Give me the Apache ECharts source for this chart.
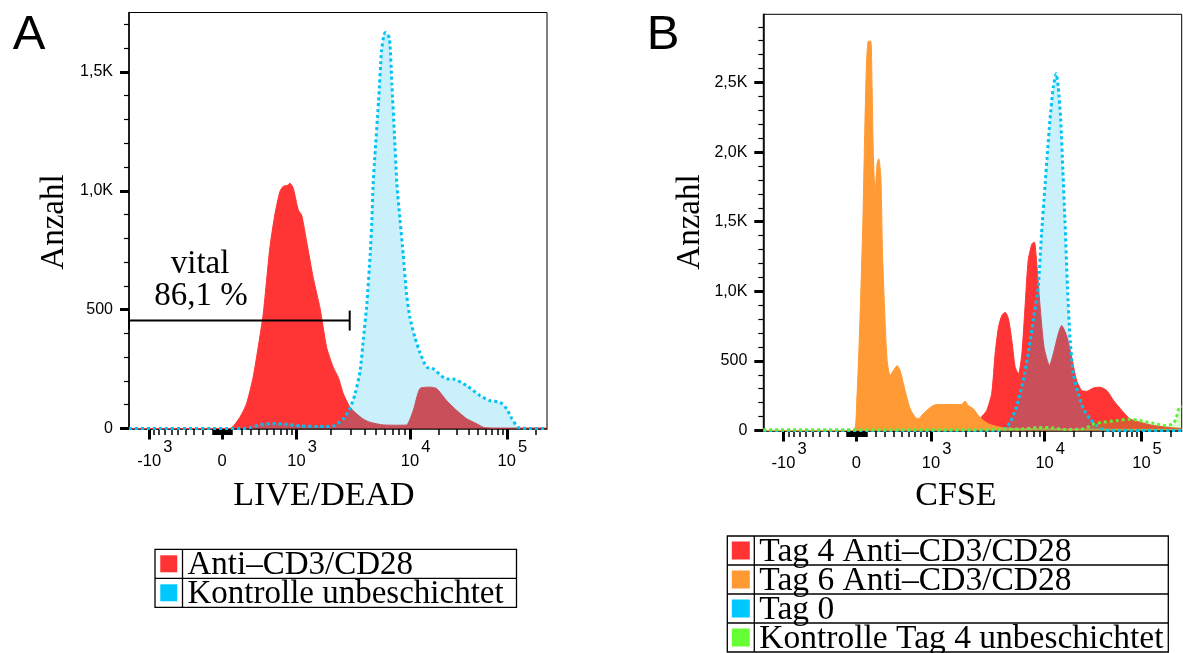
<!DOCTYPE html>
<html>
<head>
<meta charset="utf-8">
<script src="https://cdn.jsdelivr.net/npm/echarts@6/dist/echarts.min.js"></script>
<style>
html,body{margin:0;padding:0;background:#fff;}
#chart{width:1183px;height:653px;}
</style>
</head>
<body>
<div id="chart"></div>
<script>
// ================= DATA =================
// x = position on the biexponential display axis, in display channels (0 .. 1000 across the plot),
// y = event count (Anzahl).

// Panel A: LIVE/DEAD
const namesA = ['Anti\u2013CD3/CD28', 'Kontrolle unbeschichtet'];
const liveDeadAnti = [
  [0,0],[241,0],[265,47],[281,104],[297,216],[309,342],[321,480],[329,621],[337,761],[349,901],
  [361,997],[369,1019],[379,1023],[385,1032],[393,1011],[405,919],[413,898],[425,786],[441,632],
  [457,506],[473,340],[489,256],[501,214],[513,145],[529,89],[545,61],[560,40],[577,26],[608,15],
  [640,14],[664,15],[680,76],[696,168],[720,174],[736,168],[760,117],[784,76],[808,41],[832,20],
  [848,5],[870,2],[1000,2]
];
const liveDeadKontrolle = [
  [0,0],[272,0],[289,4],[321,18],[345,21],[377,18],[409,11],[457,8],[489,11],[513,41],[529,87],
  [541,146],[553,243],[561,383],[569,523],[577,733],[581,873],[584,1027],[588,1141],[597,1376],
  [604,1586],[610,1657],[614,1666],[623,1642],[629,1446],[635,1237],[641,1026],[648,886],[656,733],
  [664,565],[672,467],[684,383],[696,320],[712,258],[728,251],[760,208],[776,208],[808,180],
  [840,138],[864,117],[888,110],[904,82],[916,41],[931,5],[951,0],[1000,0]
];
// gate "vital": from / to (display channels), level (count), and label
const gateA = [0, 528, 454];
const gateLabelText = ['vital', '86,1 %'];
const gateLabelPos = [[170, 690], [172, 558]];

// Panel B: CFSE
const namesB = ['Tag 4 Anti\u2013CD3/CD28', 'Tag 6 Anti\u2013CD3/CD28', 'Tag 0', 'Kontrolle Tag 4 unbeschichtet'];
const cfseTag4 = [
  [0,0],[505,0],[518,84],[534,144],[546,268],[554,551],[562,742],[570,826],[578,850],[586,802],
  [594,647],[602,455],[610,407],[618,551],[626,910],[633,1221],[642,1341],[648,1353],[653,1221],
  [661,910],[671,598],[684,467],[693,551],[705,695],[713,754],[725,682],[737,527],[749,359],
  [761,287],[773,282],[789,306],[805,311],[821,287],[837,216],[857,144],[876,84],[900,60],
  [932,36],[980,19],[1000,15]
];
const cfseTag6 = [
  [0,0],[215,0],[223,192],[231,790],[238,1509],[243,2227],[247,2658],[251,2797],[257,2797],
  [260,2466],[263,1988],[267,1712],[272,1916],[276,1952],[281,1820],[285,1269],[291,790],
  [296,503],[303,395],[311,431],[320,467],[327,431],[339,287],[351,156],[363,96],[371,84],
  [382,120],[402,172],[414,187],[446,187],[474,187],[482,211],[490,180],[502,156],[514,108],
  [526,72],[542,43],[566,24],[598,14],[700,10],[900,8],[1000,8]
];
const cfseTag0 = [
  [0,0],[558,0],[574,7],[590,60],[606,180],[621,359],[633,551],[645,790],[657,1029],[665,1413],
  [673,1748],[679,1988],[685,2227],[693,2466],[700,2563],[705,2466],[711,2227],[716,1868],
  [721,1509],[727,1029],[733,670],[741,407],[753,264],[765,156],[781,84],[797,36],[813,7],
  [830,0],[1000,0]
];
const cfseKontrolle = [
  [0,5],[500,5],[560,8],[620,12],[660,22],[690,20],[720,8],[760,10],[780,30],[790,48],[813,60],
  [845,72],[876,81],[900,72],[932,52],[960,36],[980,48],[988,103],[994,167],[1000,175]
];

// axis ticks (fluorescence values) and their labels
const xMajorValues = [-1000, 0, 1000, 10000, 100000];
const xMajorBase = ['-10', '0', '10', '10', '10'];
const xMajorExp = ['3', '', '3', '4', '5'];
const yTicksA = [0, 500, 1000, 1500];
const yLabelsA = ['0', '500', '1,0K', '1,5K'];
const yTicksB = [0, 500, 1000, 1500, 2000, 2500];
const yLabelsB = ['0', '500', '1,0K', '1,5K', '2,0K', '2,5K'];
const yMaxA = 1750, yMaxB = 2990;
const titlesA = ['LIVE/DEAD', 'Anzahl'];
const titlesB = ['CFSE', 'Anzahl'];

// ================= AXIS TRANSFORM (biexponential display) =================
function toCh(v) {
  if (v >= 1000) {
    const d = Math.log10(v);
    if (d <= 4) return 401 + (d - 3) * 271.5;
    return 672.5 + (d - 4) * 231.5;
  }
  if (v <= -1000) return 48.6 - (Math.log10(-v) - 3) * 271.5;
  const k = v >= 0 ? 131.8 : 128.4;
  return 222.5 + k * Math.asinh(v / 550);
}
const minorValues = [];
for (let i = 1; i <= 9; i++) { minorValues.push(-i * 100, -i * 10, i * 10, i * 100); }
for (let i = 2; i <= 9; i++) { minorValues.push(i * 1000, i * 10000); }
minorValues.push(200000);
const xMajorCh = xMajorValues.map(toCh);
const xMinorCh = minorValues.map(toCh).filter(c => c > 0 && c < 1000);

function yMinor(max) { const r = []; for (let v = 100; v < max; v += 100) if (v % 500) r.push(v); return r; }

// ================= STYLES =================
const RED = '#ff3434', ORANGE = '#ff9a35', CYAN = '#00c3f3', GREEN = '#5ef03a';
const CYAN_FILL = 'rgba(4,185,236,0.215)', GREEN_FILL = 'rgba(90,235,50,0.2)';
const SANS = 'Liberation Sans', SERIF = 'Liberation Serif';

const grids = [
  {left: 129, top: 12.5, width: 418, height: 416},
  {left: 763.3, top: 14.3, width: 418.4, height: 416.2}
];

function nearest(arr, v) { let b = 0; for (let i = 1; i < arr.length; i++) if (Math.abs(arr[i] - v) < Math.abs(arr[b] - v)) b = i; return b; }

function xAxes(gi) {
  return [
    {
      type: 'value', gridIndex: gi, min: 0, max: 1000, position: 'bottom',
      axisLine: {show: true, onZero: false, lineStyle: {color: '#000', width: 1.5}},
      axisTick: {show: true, customValues: xMajorCh, length: 11, lineStyle: {color: '#000', width: 3}},
      axisLabel: {
        show: true, customValues: xMajorCh, margin: 10, color: '#000',
        formatter: v => { const i = nearest(xMajorCh, v); return xMajorExp[i] ? `{b|${xMajorBase[i]}}{s|${xMajorExp[i]}}` : `{z|${xMajorBase[i]}}`; },
        rich: {
          b: {fontSize: 16.5, fontFamily: SANS, color: '#000', lineHeight: 46, padding: [0, 0, 0, 11]},
          s: {fontSize: 16.5, fontFamily: SANS, color: '#000', lineHeight: 16, verticalAlign: 'top', padding: [0, 0, 0, 2]},
          z: {fontSize: 16.5, fontFamily: SANS, color: '#000', lineHeight: 46}
        }
      },
      splitLine: {show: false}
    },
    {
      type: 'value', gridIndex: gi, min: 0, max: 1000, position: 'bottom',
      axisLine: {show: false, onZero: false},
      axisTick: {show: true, customValues: xMinorCh, length: 6.5, lineStyle: {color: '#000', width: 1.5}},
      axisLabel: {show: false},
      splitLine: {show: false}
    }
  ];
}
function yAxes(gi, max, ticks, labels) {
  return [
    {
      type: 'value', gridIndex: gi, min: 0, max: max, position: 'left',
      axisLine: {show: true, onZero: false, lineStyle: {color: '#000', width: 1.5}},
      axisTick: {show: true, customValues: ticks, length: 9, lineStyle: {color: '#000', width: 3}},
      axisLabel: {show: true, customValues: ticks, margin: 16, color: '#000', fontSize: 16, fontFamily: SANS,
        formatter: v => labels[nearest(ticks, v)]},
      splitLine: {show: false}
    },
    {
      type: 'value', gridIndex: gi, min: 0, max: max, position: 'left',
      axisLine: {show: false, onZero: false},
      axisTick: {show: true, customValues: yMinor(max), length: 5, lineStyle: {color: '#000', width: 1.2}},
      axisLabel: {show: false},
      splitLine: {show: false}
    }
  ];
}

function filled(name, data, xi, yi, color, z) {
  return {type: 'line', name, data, xAxisIndex: xi, yAxisIndex: yi, symbol: 'none', smooth: 0.2, z,
    lineStyle: {color, width: 1}, areaStyle: {color, opacity: 1}, silent: true};
}
function dotted(name, data, xi, yi, color, fill, z) {
  return {type: 'line', name, data, xAxisIndex: xi, yAxisIndex: yi, symbol: 'none', smooth: 0.2, z,
    lineStyle: {color, width: 3, type: [3, 3]}, areaStyle: {color: fill, opacity: 1}, silent: true};
}

const gateSeries = {
  type: 'custom', xAxisIndex: 0, yAxisIndex: 0, z: 20, silent: true,
  data: [gateA],
  renderItem: (params, api) => {
    const p0 = api.coord([api.value(0), api.value(2)]);
    const p1 = api.coord([api.value(1), api.value(2)]);
    const ls = {stroke: '#000', lineWidth: 2};
    const children = [
      {type: 'line', shape: {x1: p0[0], y1: p0[1], x2: p1[0], y2: p1[1]}, style: ls},
      {type: 'line', shape: {x1: p0[0], y1: p0[1] - 9, x2: p0[0], y2: p0[1] + 9}, style: ls},
      {type: 'line', shape: {x1: p1[0], y1: p1[1] - 10, x2: p1[0], y2: p1[1] + 10}, style: ls}
    ];
    gateLabelText.forEach((t, i) => {
      const p = api.coord(gateLabelPos[i]);
      children.push({type: 'text', x: p[0], y: p[1], style: {text: t, fill: '#000', fontSize: 33, fontFamily: SERIF, align: 'center', verticalAlign: 'middle'}});
    });
    return {type: 'group', children};
  }
};

// legends (table style)
function legendGraphics(x, y, w, rowH, colW, sq, names, colors, fontSize) {
  const g = [];
  const h = rowH * names.length;
  g.push({type: 'rect', shape: {x, y, width: w, height: h}, style: {fill: 'none', stroke: '#000', lineWidth: 1.3}});
  g.push({type: 'line', shape: {x1: x + colW, y1: y, x2: x + colW, y2: y + h}, style: {stroke: '#000', lineWidth: 1.3}});
  names.forEach((n, i) => {
    const ry = y + i * rowH;
    if (i > 0) g.push({type: 'line', shape: {x1: x, y1: ry, x2: x + w, y2: ry}, style: {stroke: '#000', lineWidth: 1.3}});
    g.push({type: 'rect', shape: {x: x + (colW - sq) / 2, y: ry + (rowH - sq) / 2, width: sq, height: sq}, style: {fill: colors[i]}});
    g.push({type: 'text', x: x + colW + 5, y: ry + rowH * 0.5 + 1.5, style: {text: n, fill: '#000', fontSize, fontFamily: SERIF, align: 'left', verticalAlign: 'middle'}});
  });
  return g;
}

const legendColorsA = ['#ff3333', '#00c8ff'];
const legendColorsB = ['#ff3333', '#ff9933', '#00c8ff', '#66ff33'];

const textG = (text, x, y, size, family, rot) => ({type: 'text', x, y, rotation: rot || 0,
  style: {text, fill: '#000', fontSize: size, fontFamily: family, align: 'center', verticalAlign: 'middle'}});

const option = {
  animation: false,
  backgroundColor: '#fff',
  grid: grids.map(g => Object.assign({show: true, borderColor: '#000', borderWidth: 1, backgroundColor: 'transparent', containLabel: false}, g)),
  xAxis: [...xAxes(0), ...xAxes(1)],
  yAxis: [...yAxes(0, yMaxA, yTicksA, yLabelsA), ...yAxes(1, yMaxB, yTicksB, yLabelsB)],
  series: [
    filled(namesA[0], liveDeadAnti, 0, 0, RED, 2),
    dotted(namesA[1], liveDeadKontrolle, 0, 0, CYAN, CYAN_FILL, 3),
    gateSeries,
    filled(namesB[0], cfseTag4, 2, 2, RED, 2),
    filled(namesB[1], cfseTag6, 2, 2, ORANGE, 3),
    dotted(namesB[2], cfseTag0, 2, 2, CYAN, CYAN_FILL, 4),
    dotted(namesB[3], cfseKontrolle, 2, 2, GREEN, GREEN_FILL, 5)
  ],
  graphic: [
    textG('A', 29, 35, 49, SANS),
    textG('B', 663, 35, 49, SANS),
    textG(titlesA[1], 54, 222, 33, SERIF, Math.PI / 2),
    textG(titlesB[1], 690, 222, 33, SERIF, Math.PI / 2),
    textG(titlesA[0], 324, 496, 34, SERIF),
    textG(titlesB[0], 956, 496, 34, SERIF),
    ...legendGraphics(155, 549.3, 361.5, 29, 27.5, 17, namesA, legendColorsA, 33),
    ...legendGraphics(727.3, 536, 441, 29, 27, 18, namesB, legendColorsB, 33.5)
  ]
};

const chart = echarts.init(document.getElementById('chart'), null, {renderer: 'canvas'});
chart.setOption(option);
</script>
</body>
</html>
